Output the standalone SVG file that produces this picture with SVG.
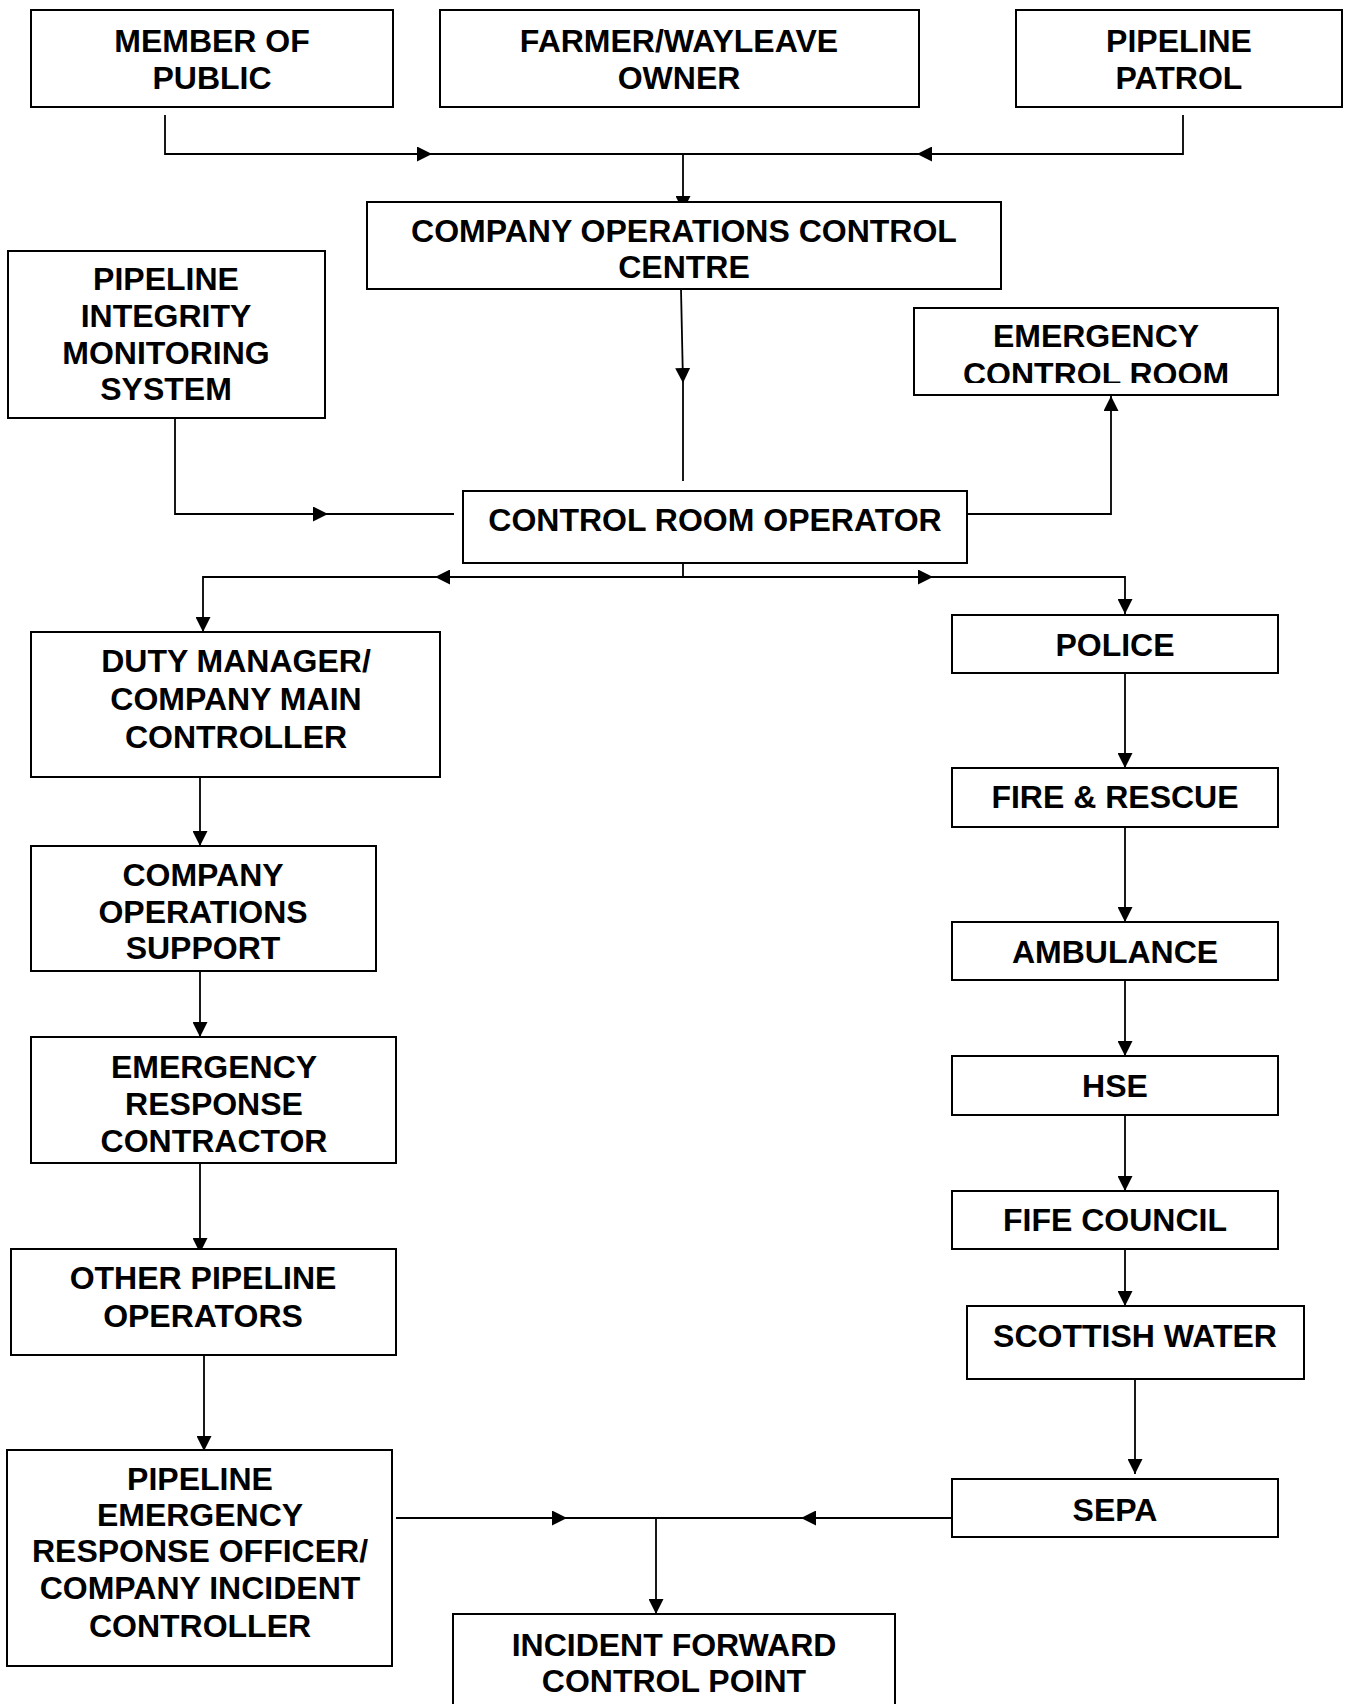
<svg xmlns="http://www.w3.org/2000/svg" width="1348" height="1704" viewBox="0 0 1348 1704">
<style>
.box{fill:#fff;stroke:#000;stroke-width:2}
.t{font-family:"Liberation Sans",Arial,sans-serif;font-weight:bold;font-size:32px;fill:#000;text-anchor:middle}
.c{fill:none;stroke:#000;stroke-width:1.8}
.a{marker-end:url(#arr)}
</style>
<defs>
<marker id="arr" viewBox="0 0 15 15" refX="15" refY="7.5" markerWidth="15" markerHeight="15" markerUnits="userSpaceOnUse" orient="auto">
<path d="M0,0 L15,7.5 L0,15 z" fill="#000"/>
</marker>
<clipPath id="ecrclip"><rect x="912" y="306" width="370" height="77"/></clipPath>
</defs>
<rect width="1348" height="1704" fill="#fff"/>

<g id="connectors">
<path class="c a" d="M165,115 V154 H432"/>
<path class="c" d="M432,154 H683"/>
<path class="c a" d="M1183,115 V154 H917"/>
<path class="c" d="M917,154 H683"/>
<path class="c a" d="M683,154 V211"/>
<path class="c a" d="M681,289 L683,383"/>
<path class="c" d="M683,383 V481"/>
<path class="c" d="M683,538 V577"/>
<path class="c a" d="M175,418 V514 H328"/>
<path class="c" d="M328,514 H454"/>
<path class="c a" d="M967,514 H1111 V396"/>
<path class="c a" d="M683,577 H435"/>
<path class="c a" d="M435,577 H203 V632"/>
<path class="c a" d="M683,577 H933"/>
<path class="c a" d="M933,577 H1125 V614"/>
<path class="c a" d="M200,777 V846"/>
<path class="c a" d="M200,971 V1037"/>
<path class="c a" d="M200,1163 V1253"/>
<path class="c a" d="M204,1355 V1451"/>
<path class="c a" d="M1125,673 V768"/>
<path class="c a" d="M1125,827 V922"/>
<path class="c a" d="M1125,980 V1056"/>
<path class="c a" d="M1125,1115 V1191"/>
<path class="c a" d="M1125,1249 V1306"/>
<path class="c a" d="M1135,1379 V1474"/>
<path class="c a" d="M396,1518 H567"/>
<path class="c" d="M567,1518 H656"/>
<path class="c a" d="M952,1518 H801"/>
<path class="c" d="M801,1518 H656"/>
<path class="c a" d="M656,1518 V1614"/>
</g>

<g id="member-of-public">
<rect class="box" x="31" y="10" width="362" height="97"/>
<text class="t" x="212" y="52">MEMBER OF</text>
<text class="t" x="212" y="89">PUBLIC</text>
</g>
<g id="farmer">
<rect class="box" x="440" y="10" width="479" height="97"/>
<text class="t" x="679" y="52">FARMER/WAYLEAVE</text>
<text class="t" x="679" y="89">OWNER</text>
</g>
<g id="pipeline-patrol">
<rect class="box" x="1016" y="10" width="326" height="97"/>
<text class="t" x="1179" y="52">PIPELINE</text>
<text class="t" x="1179" y="89">PATROL</text>
</g>
<g id="cocc">
<rect class="box" x="367" y="202" width="634" height="87"/>
<text class="t" x="684" y="242">COMPANY OPERATIONS CONTROL</text>
<text class="t" x="684" y="278">CENTRE</text>
</g>
<g id="pims">
<rect class="box" x="8" y="251" width="317" height="167"/>
<text class="t" x="166" y="290">PIPELINE</text>
<text class="t" x="166" y="327">INTEGRITY</text>
<text class="t" x="166" y="364">MONITORING</text>
<text class="t" x="166" y="400">SYSTEM</text>
</g>
<g id="emergency-control-room">
<rect class="box" x="914" y="308" width="364" height="87"/>
<g clip-path="url(#ecrclip)">
<text class="t" x="1096" y="347">EMERGENCY</text>
<text class="t" x="1096" y="385">CONTROL ROOM</text>
</g>
</g>
<g id="control-room-operator">
<rect class="box" x="463" y="491" width="504" height="72"/>
<text class="t" x="715" y="531">CONTROL ROOM OPERATOR</text>
</g>
<g id="duty-manager">
<rect class="box" x="31" y="632" width="409" height="145"/>
<text class="t" x="236" y="672">DUTY MANAGER/</text>
<text class="t" x="236" y="710">COMPANY MAIN</text>
<text class="t" x="236" y="748">CONTROLLER</text>
</g>
<g id="company-operations-support">
<rect class="box" x="31" y="846" width="345" height="125"/>
<text class="t" x="203" y="886">COMPANY</text>
<text class="t" x="203" y="923">OPERATIONS</text>
<text class="t" x="203" y="959">SUPPORT</text>
</g>
<g id="emergency-response-contractor">
<rect class="box" x="31" y="1037" width="365" height="126"/>
<text class="t" x="214" y="1078">EMERGENCY</text>
<text class="t" x="214" y="1115">RESPONSE</text>
<text class="t" x="214" y="1152">CONTRACTOR</text>
</g>
<g id="other-pipeline-operators">
<rect class="box" x="11" y="1249" width="385" height="106"/>
<text class="t" x="203" y="1289">OTHER PIPELINE</text>
<text class="t" x="203" y="1327">OPERATORS</text>
</g>
<g id="pero">
<rect class="box" x="7" y="1450" width="385" height="216"/>
<text class="t" x="200" y="1490">PIPELINE</text>
<text class="t" x="200" y="1526">EMERGENCY</text>
<text class="t" x="200" y="1562">RESPONSE OFFICER/</text>
<text class="t" x="200" y="1599">COMPANY INCIDENT</text>
<text class="t" x="200" y="1637">CONTROLLER</text>
</g>
<g id="incident-forward-control-point">
<rect class="box" x="453" y="1614" width="442" height="110"/>
<text class="t" x="674" y="1656">INCIDENT FORWARD</text>
<text class="t" x="674" y="1692">CONTROL POINT</text>
</g>
<g id="police">
<rect class="box" x="952" y="615" width="326" height="58"/>
<text class="t" x="1115" y="656">POLICE</text>
</g>
<g id="fire-rescue">
<rect class="box" x="952" y="768" width="326" height="59"/>
<text class="t" x="1115" y="808">FIRE &amp; RESCUE</text>
</g>
<g id="ambulance">
<rect class="box" x="952" y="922" width="326" height="58"/>
<text class="t" x="1115" y="963">AMBULANCE</text>
</g>
<g id="hse">
<rect class="box" x="952" y="1056" width="326" height="59"/>
<text class="t" x="1115" y="1097">HSE</text>
</g>
<g id="fife-council">
<rect class="box" x="952" y="1191" width="326" height="58"/>
<text class="t" x="1115" y="1231">FIFE COUNCIL</text>
</g>
<g id="scottish-water">
<rect class="box" x="967" y="1306" width="337" height="73"/>
<text class="t" x="1135" y="1347">SCOTTISH WATER</text>
</g>
<g id="sepa">
<rect class="box" x="952" y="1479" width="326" height="58"/>
<text class="t" x="1115" y="1521">SEPA</text>
</g>
</svg>
